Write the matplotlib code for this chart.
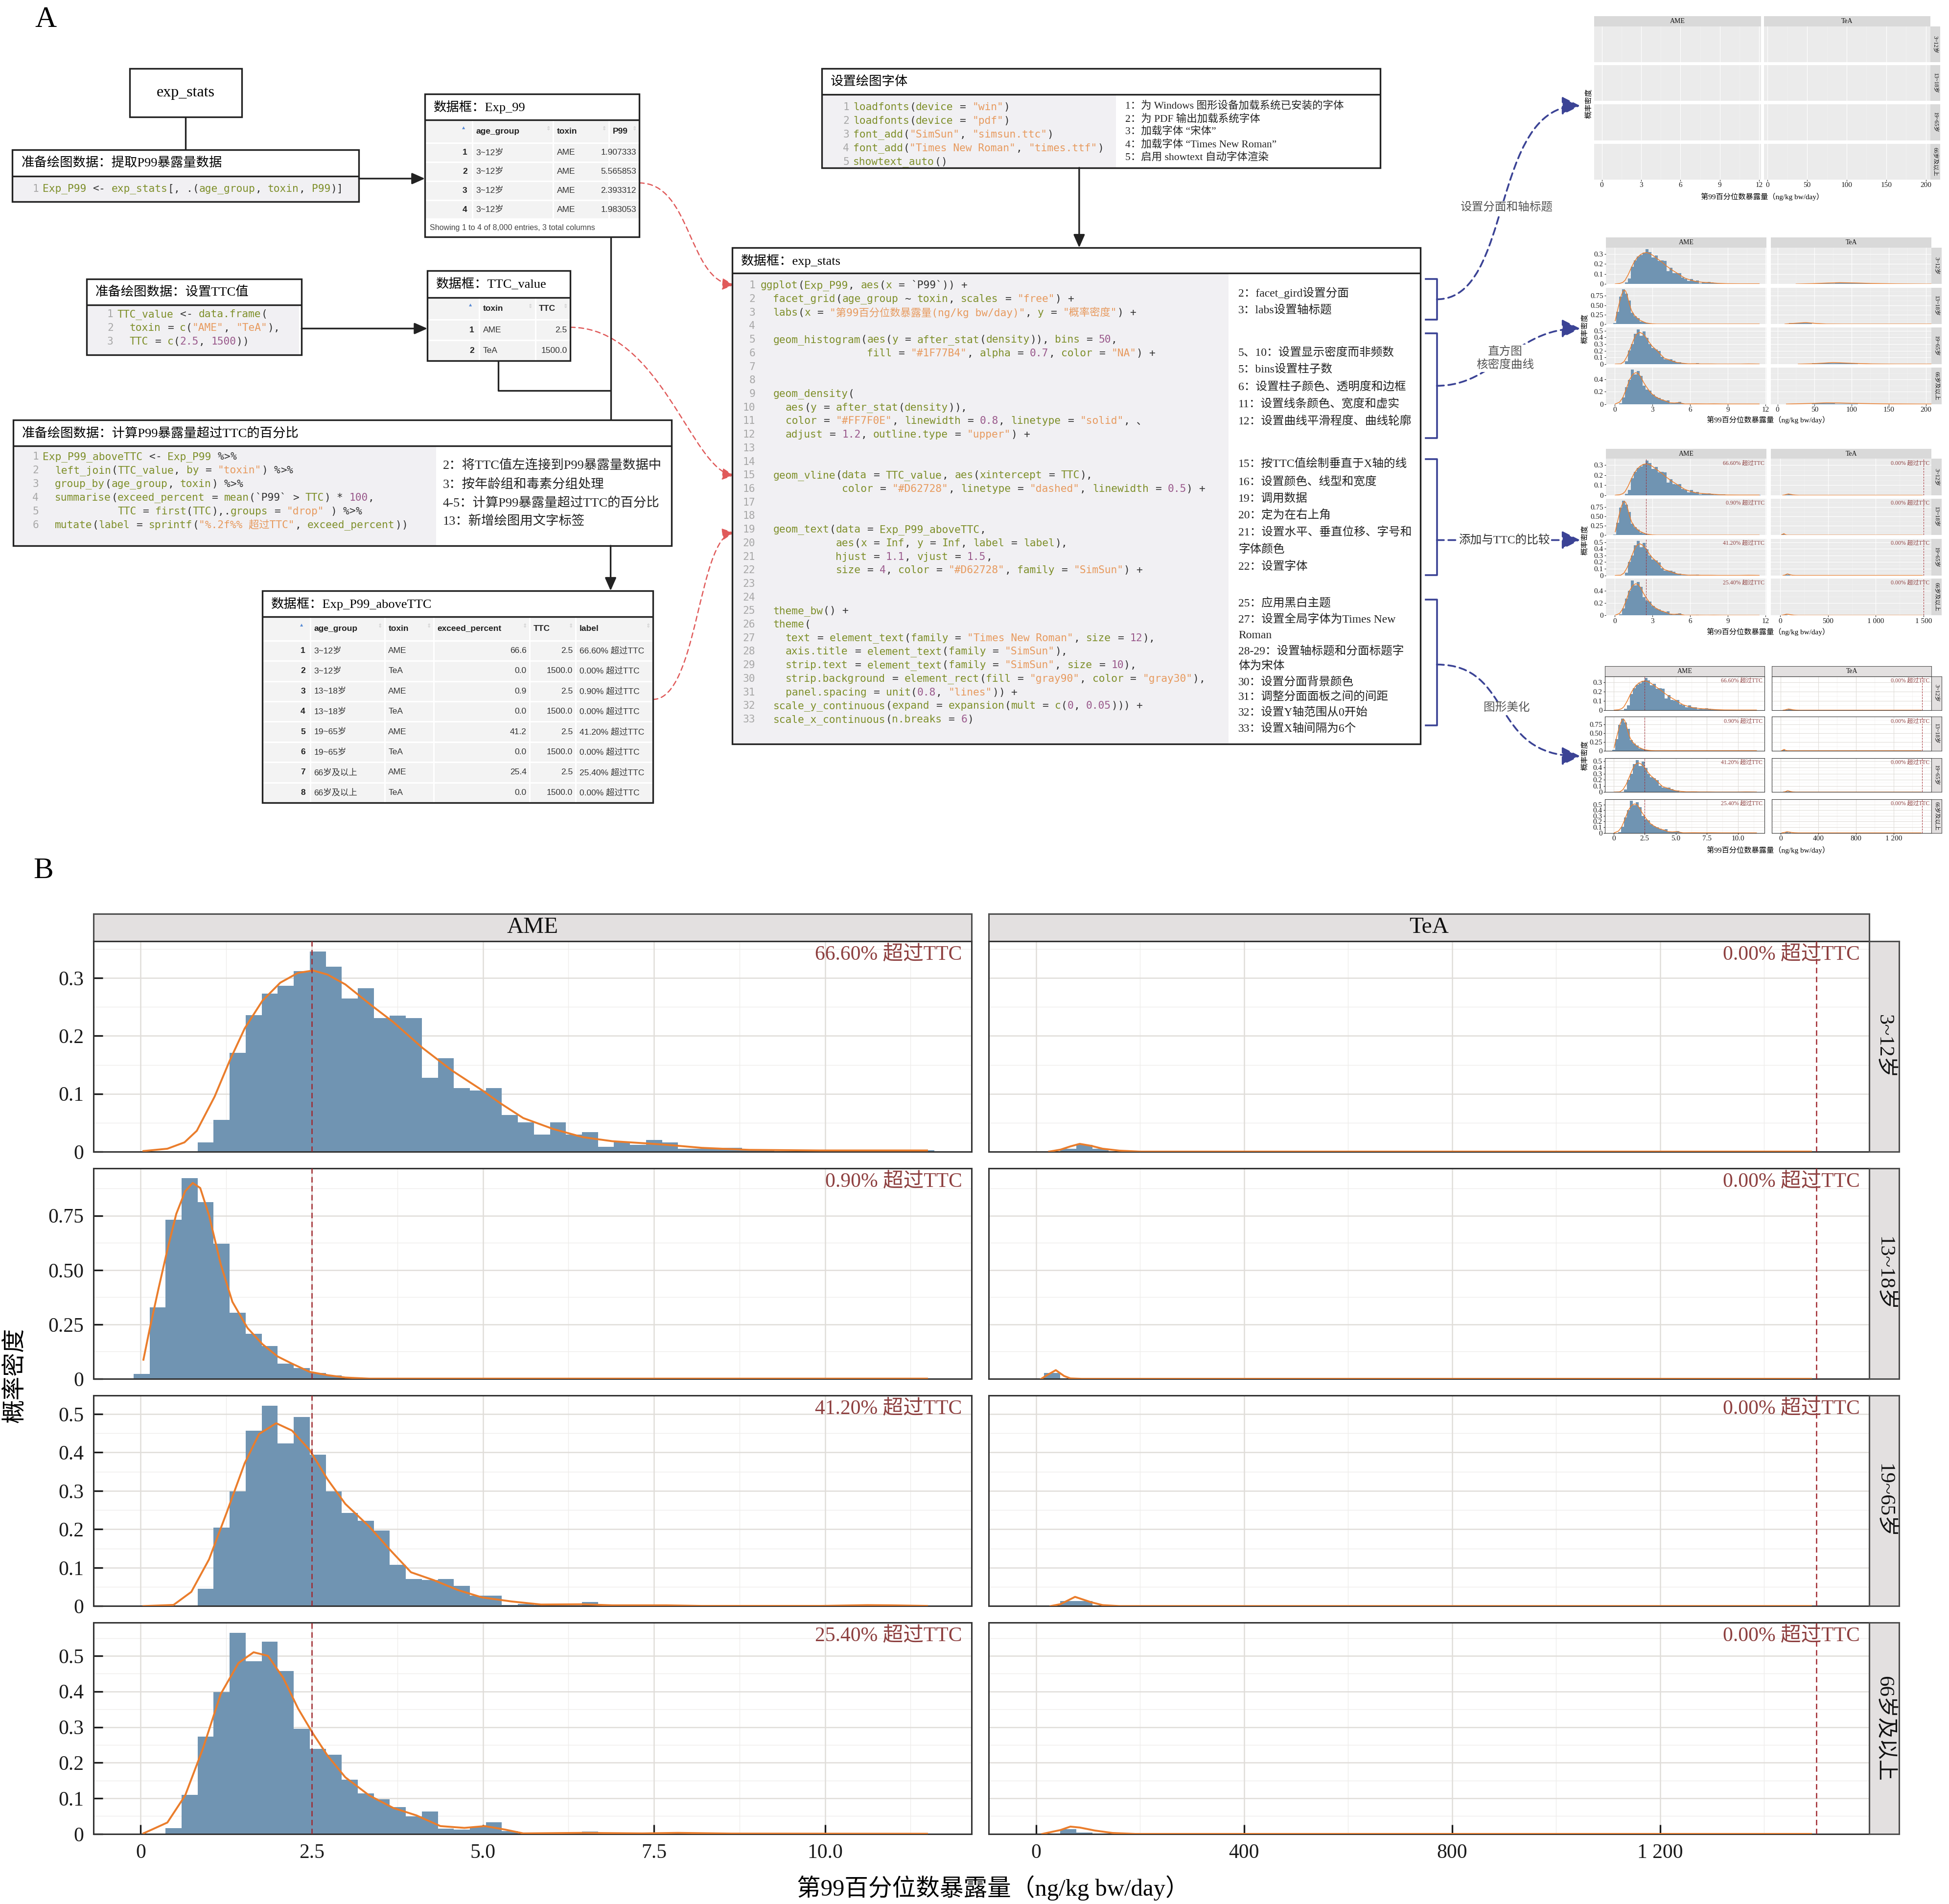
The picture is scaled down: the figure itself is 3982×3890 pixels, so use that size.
import re
import numpy as np
import matplotlib.pyplot as plt
from matplotlib.patches import Rectangle, FancyArrowPatch
from matplotlib.path import Path

SERIF = ['Liberation Serif', 'Noto Sans CJK SC']
MONO = ['DejaVu Sans Mono', 'Noto Sans CJK SC']
SANS = ['Liberation Sans', 'Noto Sans CJK SC']
plt.rcParams['font.family'] = SERIF

# ---------------- data ----------------
toxins = ['AME', 'TeA']
age_groups = ['3~12岁', '13~18岁', '19~65岁', '66岁及以上']
ttc_values = [2.5, 1500.0]
exceed_percent = [[66.6, 0.0], [0.9, 0.0], [41.2, 0.0], [25.4, 0.0]]

# histogram densities (AME: 50 bins over the AME range)
ame_bin0 = -0.104
ame_binw = 0.234
ame_first_bin = [4, 0, 4, 2]
ame_hist = [
    [0.0157, 0.0548, 0.1707, 0.2356, 0.273, 0.2868, 0.3124, 0.346, 0.320, 0.2648,
     0.2826, 0.2308, 0.2353, 0.2305, 0.128, 0.1614, 0.110, 0.106, 0.110, 0.063,
     0.051, 0.0295, 0.051, 0.0295, 0.0337, 0.0079, 0.018, 0.012, 0.0205, 0.0155,
     0.005, 0.005, 0.007, 0.007, 0.003, 0.002, 0.001, 0.001, 0.0, 0.001,
     0.0, 0.0, 0.001, 0.0, 0.003, 0.002],
    [0.022, 0.329, 0.731, 0.922, 0.8115, 0.6215, 0.3037, 0.208, 0.151, 0.0696,
     0.0486, 0.0277, 0.017, 0.006, 0.002, 0.001],
    [0.0445, 0.204, 0.299, 0.457, 0.522, 0.423, 0.492, 0.394, 0.299, 0.242,
     0.2225, 0.196, 0.107, 0.071, 0.068, 0.071, 0.053, 0.0275, 0.0275, 0.0034,
     0.0055, 0.003, 0.002, 0.002, 0.0106, 0.002, 0.001, 0.001, 0.001, 0.0,
     0.0, 0.0, 0.0, 0.0, 0.0, 0.0, 0.0, 0.0, 0.0, 0.002, 0.002, 0.002],
    [0.0158, 0.11, 0.2737, 0.398, 0.5646, 0.4847, 0.540, 0.4568, 0.2955, 0.2385,
     0.2218, 0.1526, 0.1144, 0.0967, 0.0753, 0.0488, 0.0626, 0.0153, 0.0117, 0.0203,
     0.033, 0.0076, 0.001, 0.001, 0.0, 0.002, 0.007, 0.002, 0.002, 0.001,
     0.003, 0.003, 0.002, 0.001],
]
tea_bin0 = 15.6
tea_binw = 31.0
tea_first_bin = [1, 0, 1, 1]
tea_hist = [[0.005, 0.0117, 0.005], [0.027], [0.0127, 0.0127], [0.0137, 0.004]]

# kernel density curves
ame_dens_x = [
    [0.04, 0.39, 0.64, 0.82, 1.08, 1.30, 1.52, 1.78, 2.04, 2.30, 2.52, 2.73, 2.99, 3.38, 3.69,
     4.12, 4.55, 4.99, 5.25, 5.59, 6.03, 6.46, 6.89, 7.42, 7.76, 8.20, 8.89, 9.93, 11.49],
    [0.04, 0.13, 0.26, 0.39, 0.52, 0.65, 0.76, 0.87, 1.00, 1.17, 1.34, 1.56, 1.78, 2.00,
     2.21, 2.47, 2.73, 2.99, 3.34, 11.49],
    [0.04, 0.48, 0.74, 1.00, 1.26, 1.52, 1.73, 1.98, 2.21, 2.47, 2.73, 2.99, 3.34, 3.64,
     3.95, 4.29, 4.64, 4.99, 5.42, 5.85, 6.46, 6.89, 7.68, 8.20, 9.93, 10.62, 10.97, 11.49],
    [0.04, 0.39, 0.65, 0.91, 1.17, 1.43, 1.65, 1.86, 2.08, 2.30, 2.52, 2.73, 2.99, 3.34,
     3.69, 4.03, 4.38, 4.73, 5.03, 5.33, 5.59, 6.46, 7.33, 7.85, 8.63, 11.49],
]
ame_dens_y = [
    [0.001, 0.005, 0.016, 0.036, 0.095, 0.157, 0.213, 0.261, 0.292, 0.309, 0.313, 0.306, 0.289, 0.252,
     0.224, 0.179, 0.140, 0.106, 0.084, 0.058, 0.039, 0.025, 0.018, 0.014, 0.011, 0.0065, 0.003, 0.002,
     0.002],
    [0.088, 0.227, 0.414, 0.593, 0.758, 0.862, 0.900, 0.877, 0.750, 0.526, 0.354, 0.234, 0.159, 0.103,
     0.070, 0.032, 0.017, 0.006, 0.001, 0.001],
    [0.0, 0.003, 0.037, 0.122, 0.245, 0.372, 0.448, 0.476, 0.457, 0.406, 0.330, 0.266, 0.207, 0.147,
     0.088, 0.067, 0.0415, 0.0225, 0.012, 0.004, 0.0047, 0.002, 0.002, 0.0004, 0.0004, 0.0025, 0.002, 0.0004],
    [0.0015, 0.032, 0.108, 0.240, 0.393, 0.480, 0.510, 0.500, 0.439, 0.352, 0.281, 0.220, 0.159, 0.108,
     0.073, 0.052, 0.022, 0.017, 0.022, 0.012, 0.0015, 0.003, 0.0015, 0.003, 0.001, 0.0005],
]
tea_dens_x = [
    [25, 47, 66, 84, 106, 128, 160, 200, 1490],
    [10, 22, 38, 54, 66, 88, 1490],
    [28, 47, 75, 106, 128, 160, 1490],
    [12, 47, 66, 84, 113, 147, 191, 1490],
]
tea_dens_y = [
    [0.0, 0.0034, 0.009, 0.0134, 0.010, 0.005, 0.0017, 0.0, 0.0],
    [0.0, 0.018, 0.040, 0.013, 0.002, 0.0, 0.0],
    [0.0, 0.005, 0.024, 0.010, 0.0025, 0.0, 0.0],
    [0.0, 0.011, 0.0206, 0.018, 0.0096, 0.0027, 0.0, 0.0],
]

# preview table of Exp_99
exp99_age = ['3~12岁', '3~12岁', '3~12岁', '3~12岁']
exp99_toxin = ['AME', 'AME', 'AME', 'AME']
exp99_p99 = [1.907333, 5.565853, 2.393312, 1.983053]

# code shown in panel A
code_extract = ['Exp_P99 <- exp_stats[, .(age_group, toxin, P99)]']
code_ttc = ['TTC_value <- data.frame(',
            '  toxin = c("AME", "TeA"),',
            '  TTC = c(2.5, 1500))']
code_above = ['Exp_P99_aboveTTC <- Exp_P99 %>%',
              '  left_join(TTC_value, by = "toxin") %>%',
              '  group_by(age_group, toxin) %>%',
              '  summarise(exceed_percent = mean(`P99` > TTC) * 100,',
              '            TTC = first(TTC),.groups = "drop" ) %>%',
              '  mutate(label = sprintf("%.2f%% 超过TTC", exceed_percent))']
code_font = ['loadfonts(device = "win")',
             'loadfonts(device = "pdf")',
             'font_add("SimSun", "simsun.ttc")',
             'font_add("Times New Roman", "times.ttf")',
             'showtext_auto()']
code_plot = [
    'ggplot(Exp_P99, aes(x = `P99`)) +',
    '  facet_grid(age_group ~ toxin, scales = "free") +',
    '  labs(x = "第99百分位数暴露量(ng/kg bw/day)", y = "概率密度") +',
    '',
    '  geom_histogram(aes(y = after_stat(density)), bins = 50,',
    '                 fill = "#1F77B4", alpha = 0.7, color = "NA") +',
    '', '',
    '  geom_density(',
    '    aes(y = after_stat(density)),',
    '    color = "#FF7F0E", linewidth = 0.8, linetype = "solid", 、',
    '    adjust = 1.2, outline.type = "upper") +',
    '', '',
    '  geom_vline(data = TTC_value, aes(xintercept = TTC),',
    '             color = "#D62728", linetype = "dashed", linewidth = 0.5) +',
    '', '',
    '  geom_text(data = Exp_P99_aboveTTC,',
    '            aes(x = Inf, y = Inf, label = label),',
    '            hjust = 1.1, vjust = 1.5,',
    '            size = 4, color = "#D62728", family = "SimSun") +',
    '', '',
    '  theme_bw() +',
    '  theme(',
    '    text = element_text(family = "Times New Roman", size = 12),',
    '    axis.title = element_text(family = "SimSun"),',
    '    strip.text = element_text(family = "SimSun", size = 10),',
    '    strip.background = element_rect(fill = "gray90", color = "gray30"),',
    '    panel.spacing = unit(0.8, "lines")) +',
    '  scale_y_continuous(expand = expansion(mult = c(0, 0.05))) +',
    '  scale_x_continuous(n.breaks = 6)',
]

# ---------------- canvas ----------------
W, H = 1564.0, 1530.0
PT = 3982 / W * 0.72          # points per layout unit
fig = plt.figure(figsize=(39.82, 38.90), dpi=100)
bg = fig.add_axes([0, 0, 1, 1])
bg.set_xlim(0, W)
bg.set_ylim(H, 0)
bg.axis('off')


def fbox(x0, y0, x1, y1):
    return [x0 / W, 1 - y1 / H, (x1 - x0) / W, (y1 - y0) / H]


INK = '#222222'
NAVY = '#3B4395'
REDA = '#E05A5A'
CODE_BG = '#F1F0F3'
BAR_C = '#7094B2'
ORANGE = '#EA7D2C'
VLINE_C = '#A0282E'
LAB_C = '#8E4040'
TAB_FS = 12.5

CODE_FS = 15.3
CODE_CW = 0.602 * CODE_FS / PT
CODE_EM = CODE_FS / PT
TOKEN = re.compile(r'("[^"]*")|(`[^`]*`)|([A-Za-z_][A-Za-z0-9_.]*)|(\d+\.?\d*)|(\s+)|(.)')
C_ID, C_STR, C_NUM, C_OP, C_LN = '#7E8F2A', '#E79A5E', '#9A5A8C', '#333333', '#A8A8A8'


def rect(x0, y0, x1, y1, fc='none', ec=INK, lw=2.4, z=5):
    bg.add_patch(Rectangle((x0, y0), x1 - x0, y1 - y0, fc=fc, ec=ec, lw=lw, zorder=z))


def line(xs, ys, color=INK, lw=2.4, z=5):
    bg.plot(xs, ys, color=color, lw=lw, solid_capstyle='butt', zorder=z)


def arrow(p0, p1):
    bg.add_patch(FancyArrowPatch(p0, p1, arrowstyle='-|>,head_length=0.5,head_width=0.22',
                                 mutation_scale=32, color=INK, lw=2.4, shrinkA=0, shrinkB=0, zorder=6))


def curve_arrow(pts, color, lw, dash, ms):
    path = Path(pts, [Path.MOVETO, Path.CURVE4, Path.CURVE4, Path.CURVE4])
    bg.add_patch(FancyArrowPatch(path=path, arrowstyle='-|>,head_length=0.6,head_width=0.3',
                                 mutation_scale=ms, color=color, lw=lw, linestyle=(0, dash), zorder=2))


def char_w(ch):
    return CODE_EM if ord(ch) > 0x2E7F else CODE_CW


def draw_code(x_num, x_code, y0, dy, lines, num_right=False):
    for i, ln in enumerate(lines):
        y = y0 + i * dy
        bg.text(x_num, y, str(i + 1), ha='right' if num_right else 'left', va='center',
                family=MONO, fontsize=CODE_FS, color=C_LN, zorder=7)
        x = x_code
        for m in TOKEN.finditer(ln):
            s = m.group(0)
            if m.group(5) is None:
                if m.group(1):
                    col = C_STR
                elif m.group(3):
                    col = C_ID
                elif m.group(4):
                    col = C_NUM
                else:
                    col = C_OP
                bg.text(x, y, s, ha='left', va='center', family=MONO, fontsize=CODE_FS, color=col, zorder=7)
            x += sum(char_w(ch) for ch in s)


def code_box(x0, y0, x1, y1, ydiv, title, gray_x1):
    rect(x0, y0, x1, y1, fc='white', ec='none', z=3)
    bg.add_patch(Rectangle((x0, ydiv), gray_x1 - x0, y1 - ydiv, fc=CODE_BG, ec='none', zorder=4))
    rect(x0, y0, x1, y1)
    line([x0, x1], [ydiv, ydiv])
    bg.text(x0 + 7, (y0 + ydiv) / 2, title, fontsize=19, ha='left', va='center', zorder=7)


def notes(x, ys, texts, fs):
    for y, t in zip(ys, texts):
        bg.text(x, y, t, fontsize=fs, ha='left', va='center', color='#222222', zorder=7)


def table(x0, y0, ydiv, title, edges, header, rows, aligns, hh, rh, footer=None, fh=0):
    x1 = edges[-1]
    n = len(rows)
    yb = ydiv + hh + n * rh + fh
    rect(x0, y0, x1, yb, fc='white', ec='none', z=3)
    bg.add_patch(Rectangle((x0, ydiv), x1 - x0, hh + n * rh, fc='#F3F3F3', ec='none', zorder=4))
    for k in range(n + 1):
        yy = ydiv + hh + k * rh
        line([x0, x1], [yy, yy], color='white', lw=2.2, z=4.5)
    for e in edges[1:-1]:
        line([e, e], [ydiv, ydiv + hh + n * rh], color='white', lw=2.2, z=4.5)
    ty = ydiv + hh / 2
    bg.text(edges[1] - 5, ty - 3, '▲', fontsize=7.5, color='#5B8DD6', ha='right', va='center', family=SANS, zorder=7)
    for j, htxt in enumerate(header):
        bg.text(edges[j + 1] + 3, ty, htxt, fontsize=TAB_FS, fontweight='bold', ha='left', va='center',
                family=SANS, color='#222222', zorder=7)
        bg.text(edges[j + 2] - 2, ty - 2, '⇕', fontsize=8, color='#C8C8C8', ha='right', va='center',
                family=['DejaVu Sans'], zorder=7)
    for i, row in enumerate(rows):
        yy = ydiv + hh + (i + 0.5) * rh
        bg.text(edges[1] - 4, yy, str(i + 1), fontsize=TAB_FS, fontweight='bold', ha='right', va='center',
                family=SANS, color='#222222', zorder=7)
        for j, cell in enumerate(row):
            if aligns[j] == 'r':
                bg.text(edges[j + 2] - 2.5, yy, cell, fontsize=TAB_FS, ha='right', va='center', family=SANS,
                        color='#333333', zorder=7)
            else:
                bg.text(edges[j + 1] + 3, yy, cell, fontsize=TAB_FS, ha='left', va='center', family=SANS,
                        color='#333333', zorder=7)
    if footer:
        bg.text(x0 + 4, yb - fh / 2, footer, fontsize=11.5, ha='left', va='center', family=SANS,
                color='#444444', zorder=7)
    rect(x0, y0, x1, yb)
    line([x0, x1], [ydiv, ydiv])
    bg.text(x0 + 7, (y0 + ydiv) / 2, title, fontsize=19, ha='left', va='center', zorder=7)


# ---------------- panel A ----------------
bg.text(28, 16, 'A', fontsize=44, ha='left', va='center')

rect(104, 55, 194, 94, fc='white')
bg.text(149, 74.5, 'exp_stats', fontsize=23, ha='center', va='center', zorder=7)
line([149, 149], [94, 120.5])

code_box(10, 120.5, 288, 162, 141.4, '准备绘图数据：提取P99暴露量数据', 288)
draw_code(26, 34, 151.7, 11, code_extract)
arrow((288, 143.5), (341, 143.5))

table(341, 75.4, 96.4, '数据框：Exp_99', [341, 379, 444, 488.5, 513],
      ['age_group', 'toxin', 'P99'],
      [[a, t, '%.6f' % p] for a, t, p in zip(exp99_age, exp99_toxin, exp99_p99)],
      ['l', 'l', 'r'], 18.4, 15.3,
      footer='Showing 1 to 4 of 8,000 entries, 3 total columns', fh=14.4)

code_box(69.5, 224, 242, 285, 245, '准备绘图数据：设置TTC值', 240)
draw_code(86, 94, 252.6, 11.05, code_ttc)
arrow((242, 264), (343, 264))

table(343, 217.7, 239, '数据框：TTC_value', [343, 384.5, 429.5, 457.6],
      ['toxin', 'TTC'], [[t, '%.1f' % v] for t, v in zip(toxins, ttc_values)],
      ['l', 'r'], 18, 16.5)

line([490, 490], [190, 337.5])
line([400, 400, 490], [290, 314, 314])

code_box(10.5, 337.5, 539, 438.5, 358.5, '准备绘图数据：计算P99暴露量超过TTC的百分比', 350)
draw_code(26, 34, 367, 11, code_above)
notes(355.3, [374, 389, 404, 419],
      ['2：将TTC值左连接到P99暴露量数据中', '3：按年龄组和毒素分组处理',
       '4-5：计算P99暴露量超过TTC的百分比', '13：新增绘图用文字标签'], 19)
arrow((490, 438.5), (490, 474.7))

above_rows = []
for r in range(4):
    for c in range(2):
        above_rows.append([age_groups[r], toxins[c], '%.1f' % exceed_percent[r][c],
                           '%.1f' % ttc_values[c], '%.2f%% 超过TTC' % exceed_percent[r][c]])
table(210.5, 474.7, 495.6, '数据框：Exp_P99_aboveTTC', [210.5, 249, 308.6, 348, 425, 462, 524],
      ['age_group', 'toxin', 'exceed_percent', 'TTC', 'label'], above_rows,
      ['l', 'l', 'r', 'r', 'l'], 19.1, 16.3)

code_box(659.5, 55, 1107.5, 134.8, 76, '设置绘图字体', 895.6)
draw_code(676.5, 684.6, 86, 11, code_font)
notes(903, [85, 95.6, 105.7, 116.3, 126.5],
      ['1：为 Windows 图形设备加载系统已安装的字体', '2：为 PDF 输出加载系统字体',
       '3：加载字体 “宋体”', '4：加载字体 “Times New Roman”', '5：启用 showtext 自动字体渲染'], 15.5)
arrow((866, 134.8), (866, 199))

code_box(587.5, 199, 1140, 598, 219.4, '数据框：exp_stats', 986)
draw_code(606, 610.3, 229.4, 10.9, code_plot, num_right=True)
big_notes = [
    (235.4, '2：facet_gird设置分面'), (249.5, '3：labs设置轴标题'),
    (283.6, '5、10：设置显示密度而非频数'), (297, '5：bins设置柱子数'),
    (311, '6：设置柱子颜色、透明度和边框'), (324.5, '11：设置线条颜色、宽度和虚实'),
    (338.6, '12：设置曲线平滑程度、曲线轮廓'), (372.7, '15：按TTC值绘制垂直于X轴的线'),
    (386.9, '16：设置颜色、线型和宽度'), (400.4, '19：调用数据'), (414, '20：定为在右上角'),
    (427.6, '21：设置水平、垂直位移、字号和'), (441.5, '字体颜色'), (455.3, '22：设置字体'),
    (484.6, '25：应用黑白主题'), (498, '27：设置全局字体为Times New'), (510.7, 'Roman'),
    (523, '28-29：设置轴标题和分面标题字'), (535.5, '体为宋体'), (548, '30：设置分面背景颜色'),
    (560.5, '31：调整分面面板之间的间距'), (572.7, '32：设置Y轴范围从0开始'),
    (585.6, '33：设置X轴间隔为6个'),
]
notes(993.7, [p[0] for p in big_notes], [p[1] for p in big_notes], 17)

# red dashed links into the plotting code
curve_arrow([(513, 147), (555, 147), (552, 226), (589, 229)], REDA, 1.8, (4, 3), 24)
curve_arrow([(457.6, 263), (530, 263), (555, 378), (589, 382)], REDA, 1.8, (4, 3), 24)
curve_arrow([(524, 562), (560, 562), (560, 432), (589, 428)], REDA, 1.8, (4, 3), 24)

# navy brackets and links to the thumbnails
for y0, y1 in [(224, 257), (268, 352), (369, 462), (482, 583)]:
    bg.plot([1144, 1153, 1153, 1144], [y0, y0, y1, y1], color=NAVY, lw=2.6, zorder=3)
curve_arrow([(1153, 240.5), (1215, 240.5), (1195, 85), (1268, 85)], NAVY, 2.6, (4, 2.5), 38)
curve_arrow([(1153, 310), (1200, 310), (1215, 264), (1268, 264)], NAVY, 2.6, (4, 2.5), 38)
curve_arrow([(1153, 434), (1190, 434), (1230, 434), (1268, 434)], NAVY, 2.6, (4, 2.5), 38)
curve_arrow([(1153, 534), (1215, 534), (1195, 607.6), (1268, 607.6)], NAVY, 2.6, (4, 2.5), 38)
wbox = dict(fc='white', ec='none', pad=2)
bg.text(1209, 167, '设置分面和轴标题', fontsize=17, color='#555555', ha='center', va='center', bbox=wbox, zorder=6)
bg.text(1208, 288, '直方图\n核密度曲线', fontsize=17, color='#555555', ha='center', va='center',
        bbox=wbox, zorder=6, linespacing=1.3)
bg.text(1207, 434, '添加与TTC的比较', fontsize=17, color='#333333', ha='center', va='center', bbox=wbox, zorder=6)
bg.text(1209, 569, '图形美化', fontsize=17, color='#555555', ha='center', va='center', bbox=wbox, zorder=6)


# ---------------- facet plots ----------------
def facets(g, sz):
    bwst = g['style'] == 'bw'
    panel_fc = 'white' if bwst else '#EBEBEB'
    strip_fc = '#E3E0E0' if bwst else '#D9D9D9'
    grid_c = '#E0DDD9' if bwst else 'white'
    gridm_c = '#EFEDEB' if bwst else '#F5F5F5'
    edge_c = '#4D4D4D'

    def strip(box, text, rot, fs):
        s = fig.add_axes(fbox(*box))
        s.set_facecolor(strip_fc)
        s.set_xticks([])
        s.set_yticks([])
        for sp in s.spines.values():
            sp.set_visible(bwst)
            sp.set_color(edge_c)
            sp.set_linewidth(sz['border'])
        s.text(0.5, 0.5, text, rotation=rot, ha='center', va='center', transform=s.transAxes,
               fontsize=fs, color='#111111')

    if g['data']:
        ytops = [1.05 * max(max(ame_hist[r]), max(tea_hist[r])) for r in range(4)]
    else:
        ytops = [1.0] * 4
    series = [(ame_bin0, ame_binw, ame_first_bin, ame_hist, ame_dens_x, ame_dens_y),
              (tea_bin0, tea_binw, tea_first_bin, tea_hist, tea_dens_x, tea_dens_y)]
    for c in range(2):
        x0, x1 = g['cols'][c]
        strip((x0, g['top'][0], x1, g['top'][1]), toxins[c], 0, sz['strip'])
        b0, bwid, first, hist, dx, dy = series[c]
        xt = g['xticks'][c]
        xstep = xt[1] - xt[0]
        for r in range(4):
            y0, y1 = g['rows'][r]
            ax = fig.add_axes(fbox(x0, y0, x1, y1))
            ax.set_facecolor(panel_fc)
            ax.set_xlim(*g['xlims'][c])
            ax.set_ylim(0, ytops[r])
            for v in np.arange(xt[0] - xstep / 2, g['xlims'][c][1], xstep):
                ax.axvline(v, color=gridm_c, lw=sz['gridm'], zorder=0)
            for v in xt:
                ax.axvline(v, color=grid_c, lw=sz['grid'], zorder=0.5)
            if g['data']:
                yt = [float(v) for v in g['ytl'][r]]
                ystep = yt[1] - yt[0]
                for v in np.arange(yt[0] + ystep / 2, ytops[r], ystep):
                    ax.axhline(v, color=gridm_c, lw=sz['gridm'], zorder=0)
                for v in yt:
                    ax.axhline(v, color=grid_c, lw=sz['grid'], zorder=0.5)
                lefts = b0 + bwid * (first[r] + np.arange(len(hist[r])))
                ax.bar(lefts, hist[r], width=bwid, align='edge', color=BAR_C, lw=0, zorder=2)
                ax.plot(dx[r], dy[r], color=ORANGE, lw=sz['curve'], zorder=3, solid_joinstyle='round')
            if g['ttc']:
                ax.axvline(ttc_values[c], color=VLINE_C, lw=sz['vline'], ls=(0, sz['dash']), zorder=4)
                ax.annotate('%.2f%% 超过TTC' % exceed_percent[r][c], xy=(1, 1), xycoords='axes fraction',
                            xytext=sz['off'], textcoords='offset points', ha='right', va='top',
                            fontsize=sz['lab'], color=LAB_C, zorder=5)
            ax.tick_params(direction=sz['tdir'], length=sz['tlen'], width=sz['twid'], pad=sz['pad'],
                           labelsize=sz['tick'], colors='#1A1A1A')
            ax.set_xticks(xt)
            if r == 3:
                ax.set_xticklabels(g['xtl'][c])
            else:
                ax.tick_params(axis='x', length=0, labelbottom=False)
            if c == 0 and g['data']:
                ax.set_yticks([float(v) for v in g['ytl'][r]])
                ax.set_yticklabels(g['ytl'][r])
            else:
                ax.set_yticks([])
            for sp in ax.spines.values():
                sp.set_visible(bwst)
                sp.set_color('#333333')
                sp.set_linewidth(sz['border'])
    for r in range(4):
        y0, y1 = g['rows'][r]
        strip((g['right'][0], y0, g['right'][1], y1), age_groups[r], 270, sz['rstrip'])
    bg.text(g['xtitle'][0], g['xtitle'][1], '第99百分位数暴露量（ng/kg bw/day）',
            fontsize=sz['title'], ha='center', va='center')
    bg.text(g['ylab'][0], g['ylab'][1], '概率密度', fontsize=sz['title'], rotation=90,
            ha='center', va='center')


sz_main = dict(tick=30, strip=34, rstrip=31, lab=30, curve=2.8, vline=1.8, border=2.2, grid=1.8,
               gridm=1.0, tlen=14, twid=2.4, pad=14, tdir='in', off=(-14, -6), dash=(4.5, 2.8), title=35)
sz_thumb = dict(tick=11, strip=10, rstrip=8.5, lab=8.5, curve=1.1, vline=0.7, border=0.8, grid=0.8,
                gridm=0.4, tlen=2.5, twid=0.8, pad=1.5, tdir='out', off=(-3, -2), dash=(4, 2), title=11)

yt_main = [['0', '0.1', '0.2', '0.3'], ['0', '0.25', '0.50', '0.75'],
           ['0', '0.1', '0.2', '0.3', '0.4', '0.5'], ['0', '0.1', '0.2', '0.3', '0.4', '0.5']]
yt_small = [['0', '0.1', '0.2', '0.3'], ['0', '0.25', '0.50', '0.75'],
            ['0', '0.1', '0.2', '0.3', '0.4', '0.5'], ['0', '0.2', '0.4']]
xt_main = [[0, 2.5, 5.0, 7.5, 10.0], [0, 400, 800, 1200]]
xtl_main = [['0', '2.5', '5.0', '7.5', '10.0'], ['0', '400', '800', '1 200']]
xt_200 = [[0, 3, 6, 9, 12], [0, 50, 100, 150, 200]]
xtl_200 = [['0', '3', '6', '9', '12'], ['0', '50', '100', '150', '200']]
xt_1500 = [[0, 3, 6, 9, 12], [0, 500, 1000, 1500]]
xtl_1500 = [['0', '3', '6', '9', '12'], ['0', '500', '1 000', '1 500']]

# thumbnail 1: empty facets
facets(dict(style='grey', data=False, ttc=False,
            cols=[(1279.4, 1413), (1415.6, 1549)], top=(13, 21.4), right=(1549, 1557),
            rows=[(21.4, 50), (52.3, 81.2), (83.9, 112.7), (115.5, 144.2)],
            xlims=[(-0.57, 12.13), (-4.3, 205.5)], xticks=xt_200, xtl=xtl_200, ytl=None,
            xtitle=(1414, 158), ylab=(1275, 83)), sz_thumb)
# thumbnail 2: histogram + density
facets(dict(style='grey', data=True, ttc=False,
            cols=[(1288.7, 1417.6), (1421, 1550)], top=(190.6, 198.9), right=(1550, 1558),
            rows=[(198.9, 228.2), (231.1, 260.4), (263.2, 292.6), (295.4, 324.7)],
            xlims=[(-0.70, 12.08), (-9, 207.7)], xticks=xt_200, xtl=xtl_200,
            ytl=yt_small, xtitle=(1419, 337.6), ylab=(1272, 264)), sz_thumb)
# thumbnail 3: with TTC lines
facets(dict(style='grey', data=True, ttc=True,
            cols=[(1288.7, 1417.6), (1421, 1550)], top=(360.8, 368.7), right=(1550, 1558),
            rows=[(368.7, 398), (400.9, 430), (433.1, 462.4), (465, 494.5)],
            xlims=[(-0.70, 12.08), (-99, 1585)], xticks=xt_1500, xtl=xtl_1500,
            ytl=yt_small, xtitle=(1419, 507.8), ylab=(1272, 434)), sz_thumb)
# thumbnail 4: final styling
facets(dict(style='bw', data=True, ttc=True,
            cols=[(1288, 1416), (1422, 1550)], top=(535.4, 543.4), right=(1550, 1558),
            rows=[(543.4, 570.7), (576, 603.3), (609.4, 636.5), (642.2, 669.3)],
            xlims=[(-0.69, 12.14), (-91, 1602)], xticks=xt_main, xtl=xtl_main,
            ytl=yt_main, xtitle=(1419, 683), ylab=(1272, 607)), sz_thumb)

# ---------------- panel B ----------------
bg.text(27, 700, 'B', fontsize=44, ha='left', va='center')
facets(dict(style='bw', data=True, ttc=True,
            cols=[(75.0, 779.6), (793.4, 1500)], top=(734.5, 756.3), right=(1500, 1524),
            rows=[(756.5, 925.4), (938.7, 1108), (1121.4, 1290.6), (1304, 1473.7)],
            xlims=[(-0.69, 12.14), (-91, 1602)], xticks=xt_main, xtl=xtl_main,
            ytl=yt_main, xtitle=(797, 1517), ylab=(12, 1105)), sz_main)

fig.savefig('out.png', dpi=100, facecolor='white')
